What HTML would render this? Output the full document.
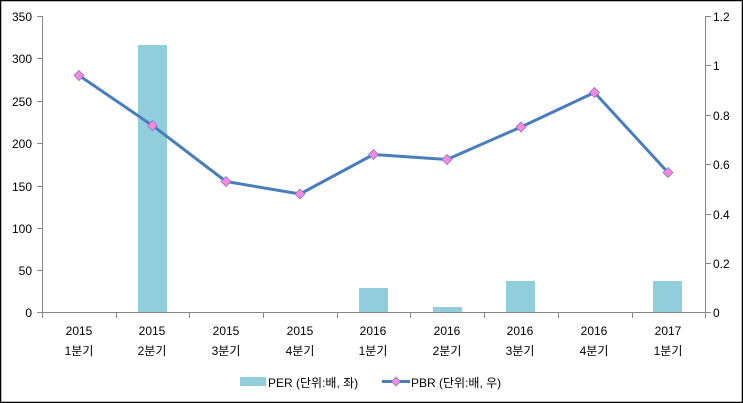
<!DOCTYPE html>
<html><head><meta charset="utf-8"><style>
html,body{margin:0;padding:0;background:#fff}
svg{display:block}
text{font-family:"Liberation Sans","Noto Sans CJK KR",sans-serif;font-size:12px;fill:#000}
</style></head><body>
<svg width="743" height="403" viewBox="0 0 743 403">
<rect x="0.5" y="0.5" width="742" height="402" fill="#fff" stroke="#000" stroke-width="1.5"/>
<g fill="#92CDDC">
<rect x="138" y="45" width="29" height="268"/>
<rect x="359" y="288" width="29" height="25"/>
<rect x="433" y="307" width="29" height="6"/>
<rect x="506" y="281" width="29" height="32"/>
<rect x="653" y="281" width="29" height="32"/>
</g>
<g stroke="#868686" stroke-width="1" fill="none">
<line x1="42.5" y1="16" x2="42.5" y2="313"/>
<line x1="705.5" y1="16" x2="705.5" y2="313"/>
<line x1="42" y1="312.5" x2="706" y2="312.5"/>
<path d="M37 16.5h5M37 58.5h5M37 101.5h5M37 143.5h5M37 186.5h5M37 228.5h5M37 270.5h5M37 312.5h5"/>
<path d="M706 16.5h5M706 65.5h5M706 115.5h5M706 164.5h5M706 214.5h5M706 263.5h5M706 312.5h5"/>
<path d="M42.5 313v5M116.5 313v5M189.5 313v5M263.5 313v5M337.5 313v5M410.5 313v5M484.5 313v5M558.5 313v5M632.5 313v5M705.5 313v5"/>
</g>
<g text-anchor="end">
<text x="32" y="21">350</text><text x="32" y="63">300</text><text x="32" y="106">250</text><text x="32" y="148">200</text><text x="32" y="191">150</text><text x="32" y="233">100</text><text x="32" y="275">50</text><text x="32" y="317">0</text>
</g>
<g text-anchor="start">
<text x="713" y="21">1.2</text><text x="713" y="70">1</text><text x="713" y="120">0.8</text><text x="713" y="169">0.6</text><text x="713" y="219">0.4</text><text x="713" y="268">0.2</text><text x="713" y="317">0</text>
</g>
<g text-anchor="middle">
<text x="79" y="335">2015</text><text x="79" y="355">1분기</text>
<text x="152" y="335">2015</text><text x="152" y="355">2분기</text>
<text x="226" y="335">2015</text><text x="226" y="355">3분기</text>
<text x="300" y="335">2015</text><text x="300" y="355">4분기</text>
<text x="373" y="335">2016</text><text x="373" y="355">1분기</text>
<text x="447" y="335">2016</text><text x="447" y="355">2분기</text>
<text x="520" y="335">2016</text><text x="520" y="355">3분기</text>
<text x="594" y="335">2016</text><text x="594" y="355">4분기</text>
<text x="668" y="335">2017</text><text x="668" y="355">1분기</text>
</g>
<polyline points="79,75.5 152.5,125.5 226,181.5 300,194 373.5,154.5 447,159.5 521,127 594.5,92.5 668,172.5" fill="none" stroke="#4A7EBB" stroke-width="3" stroke-linejoin="round"/>
<g fill="#FF88DD" stroke="#7A7AD0" stroke-width="0.8">
<path d="M79 70.5l5 5-5 5-5-5z"/><path d="M152.5 120.5l5 5-5 5-5-5z"/><path d="M226 176.5l5 5-5 5-5-5z"/><path d="M300 189l5 5-5 5-5-5z"/><path d="M373.5 149.5l5 5-5 5-5-5z"/><path d="M447 154.5l5 5-5 5-5-5z"/><path d="M521 122l5 5-5 5-5-5z"/><path d="M594.5 87.5l5 5-5 5-5-5z"/><path d="M668 167.5l5 5-5 5-5-5z"/>
</g>
<rect x="240" y="377" width="26" height="9" fill="#92CDDC"/>
<text x="268" y="387">PER (단위:배, 좌)</text>
<line x1="382" y1="381.5" x2="410" y2="381.5" stroke="#4A7EBB" stroke-width="3"/>
<path d="M396 377l4.5 4.5-4.5 4.5-4.5-4.5z" fill="#FF88DD" stroke="#7A7AD0" stroke-width="0.8"/>
<text x="411" y="387">PBR (단위:배, 우)</text>
</svg>
</body></html>
